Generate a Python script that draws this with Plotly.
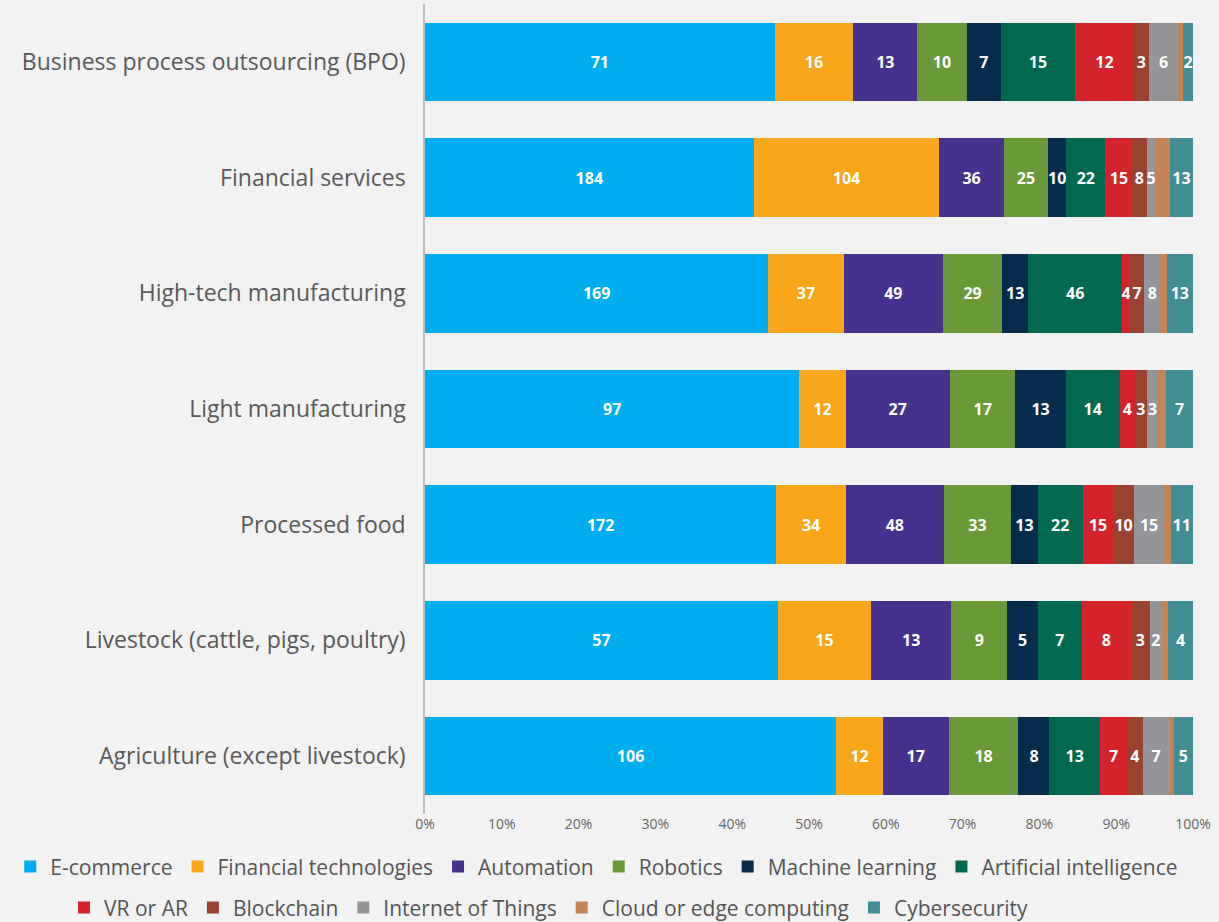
import plotly.graph_objects as go

categories = ["Business process outsourcing (BPO)", "Financial services", "High-tech manufacturing",
              "Light manufacturing", "Processed food", "Livestock (cattle, pigs, poultry)",
              "Agriculture (except livestock)"]

series_names = ["E-commerce", "Financial technologies", "Automation", "Robotics", "Machine learning",
                "Artificial intelligence", "VR or AR", "Blockchain", "Internet of Things",
                "Cloud or edge computing", "Cybersecurity"]

ecommerce = [71, 184, 169, 97, 172, 57, 106]
fintech = [16, 104, 37, 12, 34, 15, 12]
automation = [13, 36, 49, 27, 48, 13, 17]
robotics = [10, 25, 29, 17, 33, 9, 18]
machine_learning = [7, 10, 13, 13, 13, 5, 8]
ai = [15, 22, 46, 14, 22, 7, 13]
vr_ar = [12, 15, 4, 4, 15, 8, 7]
blockchain = [3, 8, 7, 3, 10, 3, 4]
iot = [6, 5, 8, 3, 15, 2, 7]
cloud = [1, 8, 3, 2, 3, 1, 1]
cyber = [2, 13, 13, 7, 11, 4, 5]

series_values = [ecommerce, fintech, automation, robotics, machine_learning, ai, vr_ar,
                 blockchain, iot, cloud, cyber]
show_labels = [True, True, True, True, True, True, True, True, True, False, True]
legend_ids = ["legend"] * 6 + ["legend2"] * 5

colors = ["#00AEEF", "#F9A61A", "#46318F", "#6A9A37", "#052C4D", "#00694F", "#D4232B",
          "#9A4230", "#939598", "#C68454", "#418D95"]

tick_vals = [0, 10, 20, 30, 40, 50, 60, 70, 80, 90, 100]
tick_text = ["0%", "10%", "20%", "30%", "40%", "50%", "60%", "70%", "80%", "90%", "100%"]

fig = go.Figure()
for name, vals, col, lab, lg in zip(series_names, series_values, colors, show_labels, legend_ids):
    fig.add_trace(go.Bar(
        y=categories, x=vals, name=name, orientation="h", legend=lg,
        marker=dict(color=col, line=dict(width=0)),
        text=[str(v) for v in vals] if lab else None,
        texttemplate="%{text}" if lab else None,
        textposition="inside" if lab else "none",
        insidetextanchor="middle",
        textangle=0,
        textfont=dict(color="white", size=16, family="Open Sans", weight="bold"),
        hoverinfo="x+y+name",
    ))

legend_font = dict(size=21, color="#555555", family="Open Sans")

fig.update_layout(
    barmode="stack",
    barnorm="percent",
    bargap=0.32,
    width=1219, height=922,
    paper_bgcolor="#F2F2F2",
    plot_bgcolor="#F2F2F2",
    margin=dict(l=425, r=26, t=4, b=108, autoexpand=False),
    uniformtext=dict(minsize=16, mode="show"),
    font=dict(family="Open Sans", color="#555555"),
    xaxis=dict(range=[0, 100], tickvals=tick_vals, ticktext=tick_text, showgrid=False,
               zeroline=False, tickfont=dict(size=14, color="#666666", family="Open Sans"),
               ticks="", ticklabelstandoff=0, fixedrange=True),
    yaxis=dict(autorange="reversed", showgrid=False, showline=True, linecolor="#BBBBBB",
               linewidth=1.5, ticks="", ticklabelstandoff=13,
               tickfont=dict(size=23, color="#595959", family="Open Sans")),
    legend=dict(orientation="h", xref="paper", x=-0.54, xanchor="left",
                yref="paper", y=-0.0654, yanchor="middle", bgcolor="rgba(0,0,0,0)",
                font=legend_font, traceorder="normal", itemclick=False),
    legend2=dict(orientation="h", xref="paper", x=-0.47, xanchor="left",
                 yref="paper", y=-0.116, yanchor="middle", bgcolor="rgba(0,0,0,0)",
                 font=legend_font, traceorder="normal", itemclick=False),
)

fig.write_html("out.html", config={"displayModeBar": False},
               post_script="document.body.style.margin='0';document.body.style.background='#F2F2F2';")
